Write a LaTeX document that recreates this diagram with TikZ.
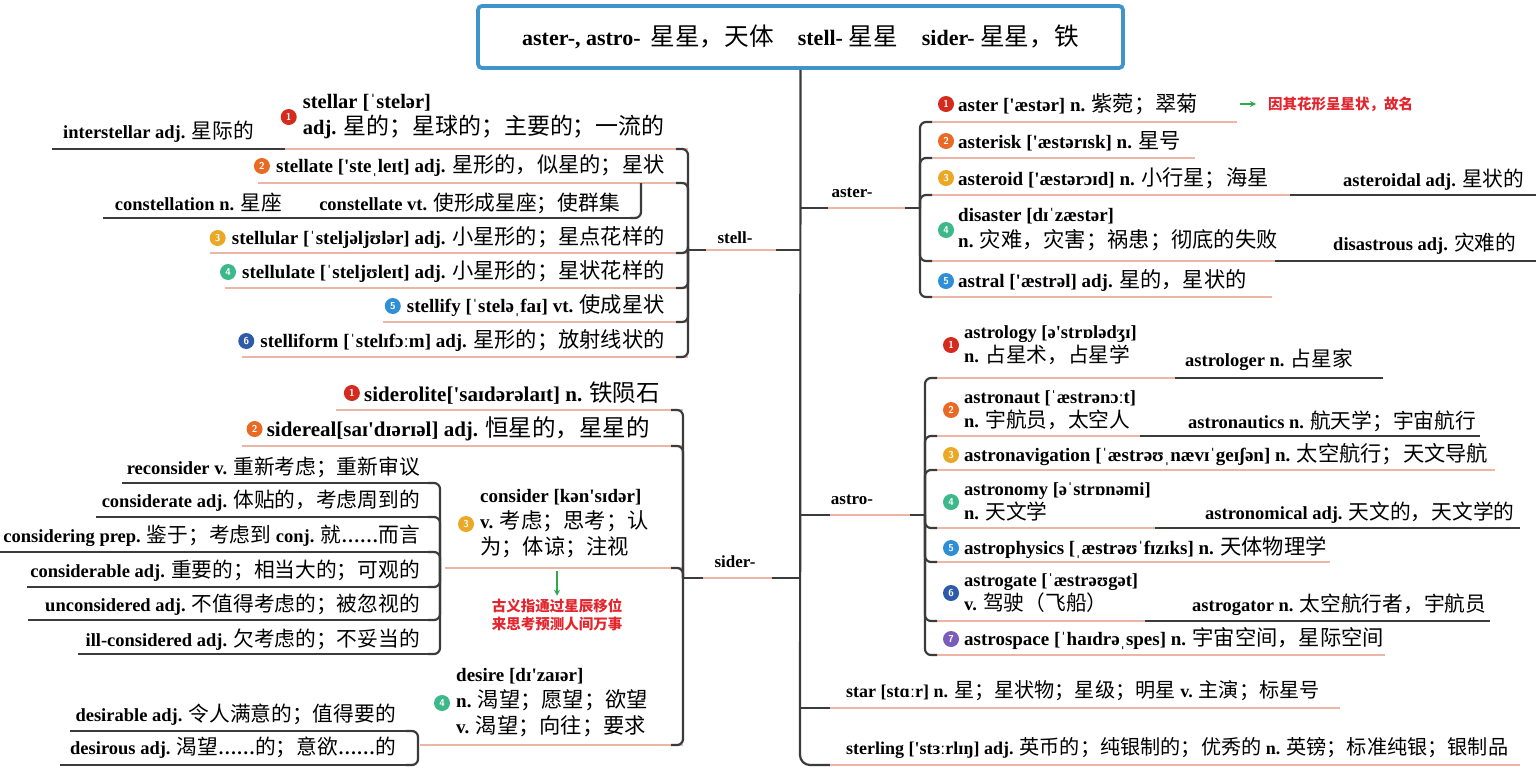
\documentclass[tikz,border=0pt]{standalone}
\usepackage{fontspec}
\setmainfont{Liberation Serif}
\newfontfamily\cjk{Noto Sans CJK SC}[Scale=1.12]
\newfontfamily\notefont{Noto Sans CJK SC}
\usetikzlibrary{arrows.meta}
\definecolor{dk}{HTML}{3B3B3B}
\definecolor{ulc}{HTML}{EDB5A3}
\definecolor{tblue}{HTML}{3F94CB}
\definecolor{b1}{HTML}{D52B1E}
\definecolor{b2}{HTML}{E86A24}
\definecolor{b3}{HTML}{EBA827}
\definecolor{b4}{HTML}{3DB88A}
\definecolor{b5}{HTML}{2E8ED6}
\definecolor{b6}{HTML}{2D5BAA}
\definecolor{b7}{HTML}{7A5CBB}
\definecolor{gar}{HTML}{2FA84F}
\definecolor{rnote}{HTML}{E3262D}
\newcommand\zh[1]{{\cjk\mdseries #1}}
\newcommand\ap{\textquotesingle}
\begin{document}
\begin{tikzpicture}[x=1pt,y=-1pt,
  en/.style={inner sep=0pt, font=\bfseries\fontsize{19}{26}\selectfont, align=left},
  enL/.style={inner sep=0pt, font=\bfseries\fontsize{20.5}{26}\selectfont, align=left},
  en2/.style={inner sep=0pt, font=\bfseries\fontsize{18.5}{24}\selectfont, align=left},
  dv/.style={inner sep=0pt, font=\bfseries\fontsize{18.5}{22}\selectfont},
  sm/.style={inner sep=0pt, font=\bfseries\fontsize{18}{22}\selectfont},
  lvl/.style={inner sep=0pt, font=\bfseries\fontsize{17}{20}\selectfont},
  ul/.style={draw=ulc, line width=2pt},
  dl/.style={draw=dk, line width=2pt},
  conn/.style={draw=dk, line width=2.2pt, rounded corners=6pt},
  bdg/.style={circle, fill=#1, text=white, inner sep=0pt, minimum size=16pt, font=\sffamily\bfseries\fontsize{10}{10}\selectfont},
  note/.style={inner sep=0pt, text=rnote, align=center, font=\notefont\bfseries\fontsize{14.5}{18}\selectfont},
  garrow/.style={draw=gar, line width=1.6pt, -{Stealth[length=6pt,width=6pt]}},
  titlebox/.style={draw=tblue, line width=3.8pt, rounded corners=4pt, fill=white, minimum width=645pt, minimum height=62pt, inner sep=0pt, font=\bfseries\fontsize{22}{26}\selectfont}
]
\fill[white] (0,0) rectangle (1536,772);
\useasboundingbox (0,0) rectangle (1536,772);

% ---------- title and trunk ----------
\node[titlebox] (title) at (800.5,37) {aster-, astro-\hspace{10pt}\zh{星星，天体}\hspace{24pt}stell- \zh{星星}\hspace{24pt}sider- \zh{星星，铁}};
\coordinate (tEnd) at (830,765);
\draw[conn, rounded corners=10pt] (title.south) -- (800,765) -- (tEnd);

% junction coordinates
\coordinate (tStell) at (800,250);
\coordinate (tSider) at (800,578);
\coordinate (tAster) at (800,208);
\coordinate (tAstro) at (800,515);
\coordinate (tStar) at (800,708);
\coordinate (jStell) at (688,250);
\coordinate (jSider) at (683,578);
\coordinate (jAster) at (920,208);
\coordinate (jAstro) at (925,515);
\coordinate (jStar) at (830,708);
\coordinate (jCons) at (440,568);
\coordinate (jDes) at (418,745);
\coordinate (jStellate) at (641,183);

% ---------- underlines ----------
% stell-
\draw[ul] (285,149) -- (688,149);
\draw[dl] (52,149) -- (285,149);
\draw[ul] (258,183) -- (688,183);
\draw[dl] (103,218) -- (630,218);
\draw[ul] (210,253) -- (688,253);
\draw[ul] (225,288) -- (688,288);
\draw[ul] (383,322) -- (688,322);
\draw[ul] (242,357) -- (688,357);
% sider-
\draw[ul] (336,410) -- (683,410);
\draw[ul] (242,446) -- (683,446);
\draw[ul] (445,568) -- (683,568);
\draw[dl] (122,483) -- (430,483);
\draw[dl] (96,517) -- (430,517);
\draw[dl] (0,552) -- (430,552);
\draw[dl] (27,587) -- (430,587);
\draw[dl] (28,620) -- (430,620);
\draw[dl] (78,654) -- (430,654);
\draw[ul] (420,745) -- (683,745);
\draw[dl] (70,731) -- (408,731);
\draw[dl] (60,765) -- (408,765);
% aster-
\draw[ul] (928,122) -- (1237,122);
\draw[ul] (928,158) -- (1195,158);
\draw[ul] (928,195) -- (1290,195);
\draw[dl] (1290,195) -- (1536,195);
\draw[ul] (928,261) -- (1275,261);
\draw[dl] (1275,261) -- (1536,261);
\draw[ul] (928,297) -- (1272,297);
% astro-
\draw[ul] (933,378) -- (1175,378);
\draw[dl] (1175,378) -- (1383,378);
\draw[ul] (933,436) -- (1140,436);
\draw[dl] (1140,436) -- (1480,436);
\draw[ul] (933,470) -- (1495,470);
\draw[ul] (933,528) -- (1155,528);
\draw[dl] (1155,528) -- (1520,528);
\draw[ul] (933,562) -- (1330,562);
\draw[ul] (933,621) -- (1145,621);
\draw[dl] (1145,621) -- (1490,621);
\draw[ul] (933,655) -- (1385,655);

% ---------- level-1 branches ----------
\draw[conn] (tStell) -- (jStell);
\draw[conn] (tSider) -- (jSider);
\draw[conn] (tAster) -- (jAster);
\draw[conn] (tAstro) -- (jAstro);
\draw[conn] (tStar) -- (jStar);
\draw[ul] (706,250) -- (776,250);
\draw[ul] (703,578) -- (772,578);
\draw[ul] (828,208) -- (905,208);
\draw[ul] (830,515) -- (910,515);
\draw[ul] (830,708) -- (1340,708);
\draw[ul] (830,765) -- (1520,765);

\node[lvl] (stell) at (735,238) {stell-};
\node[lvl] (sider) at (735,562) {sider-};
\node[lvl] (aster) at (852,193) {aster-};
\node[lvl] (astro) at (852,500) {astro-};

% ---------- brackets ----------
\foreach \y in {149,183,253,288,322,357} \draw[conn] (jStell) |- (676,\y);
\foreach \y in {410,446,568,745} \draw[conn] (jSider) |- (671,\y);
\foreach \y in {483,517,552,587,620,654} \draw[conn] (jCons) |- (428,\y);
\foreach \y in {731,765} \draw[conn] (jDes) |- (406,\y);
\draw[conn] (jStellate) |- (630,218);
\foreach \y in {122,158,195,261,297} \draw[conn] (jAster) |- (932,\y);
\foreach \y in {378,436,470,528,562,621,655} \draw[conn] (jAstro) |- (937,\y);

% ---------- stell- entries ----------
\node[enL, anchor=east] (stellar) at (665,117) {stellar [ˈstelər]\\adj. \zh{星的；星球的；主要的；一流的}};
\node[bdg=b1] (n1a) at ([xshift=-14pt]stellar.west) {1};
\node[dv, anchor=east] (interstellar) at (254,132) {interstellar adj. \zh{星际的}};
\node[en, anchor=east] (stellate) at (665,166) {stellate [\ap steˌleɪt] adj. \zh{星形的，似星的；星状}};
\node[bdg=b2] (n2a) at ([xshift=-14pt]stellate.west) {2};
\node[dv, anchor=east] (constellate) at (620,203) {constellate vt. \zh{使形成星座；使群集}};
\node[dv, anchor=east] (constellation) at (282,203) {constellation n. \zh{星座}};
\node[en, anchor=east] (stellular) at (665,238) {stellular [ˈsteljəljʊlər] adj. \zh{小星形的；星点花样的}};
\node[bdg=b3] (n3a) at ([xshift=-14pt]stellular.west) {3};
\node[en, anchor=east] (stellulate) at (665,272) {stellulate [ˈsteljʊleɪt] adj. \zh{小星形的；星状花样的}};
\node[bdg=b4] (n4a) at ([xshift=-14pt]stellulate.west) {4};
\node[en, anchor=east] (stellify) at (665,306) {stellify [ˈsteləˌfaɪ] vt. \zh{使成星状}};
\node[bdg=b5] (n5a) at ([xshift=-14pt]stellify.west) {5};
\node[en, anchor=east] (stelliform) at (665,341) {stelliform [ˈstelɪfɔːm] adj. \zh{星形的；放射线状的}};
\node[bdg=b6] (n6a) at ([xshift=-14pt]stelliform.west) {6};

% ---------- sider- entries ----------
\node[enL, font=\bfseries\fontsize{21}{26}\selectfont, anchor=east] (siderolite) at (660,393) {siderolite[\ap saɪdərəlaɪt] n. \zh{铁陨石}};
\node[bdg=b1] (n1b) at ([xshift=-12pt]siderolite.west) {1};
\node[enL, font=\bfseries\fontsize{21}{26}\selectfont, anchor=east] (sidereal) at (650,429) {sidereal[saɪ\ap dɪərɪəl] adj. \zh{恒星的，星星的}};
\node[bdg=b2] (n2b) at ([xshift=-12pt]sidereal.west) {2};
\node[en, anchor=west] (consider) at (480,524) {consider [kən\ap sɪdər]\\v. \zh{考虑；思考；认}\\\zh{为；体谅；注视}};
\node[bdg=b3] (n3b) at ([xshift=-14pt]consider.west) {3};
\node[dv, anchor=east] (reconsider) at (420,467) {reconsider v. \zh{重新考虑；重新审议}};
\node[dv, anchor=east] (considerate) at (420,501) {considerate adj. \zh{体贴的，考虑周到的}};
\node[dv, anchor=east] (considering) at (420,536) {considering prep. \zh{鉴于；考虑到} conj. \zh{就}……\zh{而言}};
\node[dv, anchor=east] (considerable) at (420,571) {considerable adj. \zh{重要的；相当大的；可观的}};
\node[dv, anchor=east] (unconsidered) at (420,605) {unconsidered adj. \zh{不值得考虑的；被忽视的}};
\node[dv, anchor=east] (illconsidered) at (420,640) {ill-considered adj. \zh{欠考虑的；不妥当的}};
\node[note] (consnote) at (557,615) {古义指通过星辰移位\\来思考预测人间万事};
\coordinate (cArr) at (557,571);
\draw[garrow] (cArr) -- ([yshift=3pt]consnote.north);
\node[en, anchor=west] (desire) at (456,703) {desire [dɪ\ap zaɪər]\\n. \zh{渴望；愿望；欲望}\\v. \zh{渴望；向往；要求}};
\node[bdg=b4] (n4b) at ([xshift=-14pt]desire.west) {4};
\node[dv, anchor=east] (desirable) at (396,715) {desirable adj. \zh{令人满意的；值得要的}};
\node[dv, anchor=east] (desirous) at (396,748) {desirous adj. \zh{渴望}……\zh{的；意欲}……\zh{的}};

% ---------- aster- entries ----------
\node[en, anchor=west] (asterw) at (958,104) {aster [\ap æstər] n. \zh{紫菀；翠菊}};
\node[bdg=b1] (n1c) at ([xshift=-12pt]asterw.west) {1};
\node[note, anchor=west] (asternote) at (1268,104) {因其花形呈星状，故名};
\draw[garrow] ([xshift=-28pt]asternote.west) -- ([xshift=-12pt]asternote.west);
\node[en, anchor=west] (asterisk) at (958,141) {asterisk [\ap æstərɪsk] n. \zh{星号}};
\node[bdg=b2] (n2c) at ([xshift=-12pt]asterisk.west) {2};
\node[en, anchor=west] (asteroid) at (958,178) {asteroid [\ap æstərɔɪd] n. \zh{小行星；海星}};
\node[bdg=b3] (n3c) at ([xshift=-12pt]asteroid.west) {3};
\node[dv, anchor=west] (asteroidal) at (1343,180) {asteroidal adj. \zh{星状的}};
\node[en, anchor=west] (disaster) at (958,230) {disaster [dɪˈzæstər]\\n. \zh{灾难，灾害；祸患；彻底的失败}};
\node[bdg=b4] (n4c) at ([xshift=-12pt]disaster.west) {4};
\node[dv, anchor=west] (disastrous) at (1333,244) {disastrous adj. \zh{灾难的}};
\node[en, anchor=west] (astral) at (958,281) {astral [\ap æstrəl] adj. \zh{星的，星状的}};
\node[bdg=b5] (n5c) at ([xshift=-12pt]astral.west) {5};

% ---------- astro- entries ----------
\node[en2, anchor=west] (astrology) at (964,345) {astrology [ə\ap strɒlədʒɪ]\\n. \zh{占星术，占星学}};
\node[bdg=b1] (n1d) at ([xshift=-13pt]astrology.west) {1};
\node[dv, anchor=west] (astrologer) at (1185,360) {astrologer n. \zh{占星家}};
\node[en2, anchor=west] (astronaut) at (964,410) {astronaut [ˈæstrənɔːt]\\n. \zh{宇航员，太空人}};
\node[bdg=b2] (n2d) at ([xshift=-13pt]astronaut.west) {2};
\node[dv, anchor=west] (astronautics) at (1188,421) {astronautics n. \zh{航天学；宇宙航行}};
\node[en, anchor=west] (astronavigation) at (964,455) {astronavigation [ˈæstrəʊˌnævɪˈgeɪʃən] n. \zh{太空航行；天文导航}};
\node[bdg=b3] (n3d) at ([xshift=-13pt]astronavigation.west) {3};
\node[en2, anchor=west] (astronomy) at (964,502) {astronomy [əˈstrɒnəmi]\\n. \zh{天文学}};
\node[bdg=b4] (n4d) at ([xshift=-13pt]astronomy.west) {4};
\node[dv, anchor=west] (astronomical) at (1205,513) {astronomical adj. \zh{天文的，天文学的}};
\node[en, anchor=west] (astrophysics) at (964,548) {astrophysics [ˌæstrəʊˈfɪzɪks] n. \zh{天体物理学}};
\node[bdg=b5] (n5d) at ([xshift=-13pt]astrophysics.west) {5};
\node[en2, anchor=west] (astrogate) at (964,593) {astrogate [ˈæstrəʊgət]\\v. \zh{驾驶（飞船）}};
\node[bdg=b6] (n6d) at ([xshift=-13pt]astrogate.west) {6};
\node[dv, anchor=west] (astrogator) at (1192,605) {astrogator n. \zh{太空航行者，宇航员}};
\node[en, anchor=west] (astrospace) at (964,639) {astrospace [ˈhaɪdrəˌspes] n. \zh{宇宙空间，星际空间}};
\node[bdg=b7] (n7d) at ([xshift=-13pt]astrospace.west) {7};

% ---------- star, sterling ----------
\node[sm, anchor=west] (star) at (846,691) {star [stɑːr] n. \zh{星；星状物；星级；明星} v. \zh{主演；标星号}};
\node[sm, anchor=west] (sterling) at (846,748) {sterling [\ap stɜːrlɪŋ] adj. \zh{英币的；纯银制的；优秀的} n. \zh{英镑；标准纯银；银制品}};
\end{tikzpicture}
\end{document}
